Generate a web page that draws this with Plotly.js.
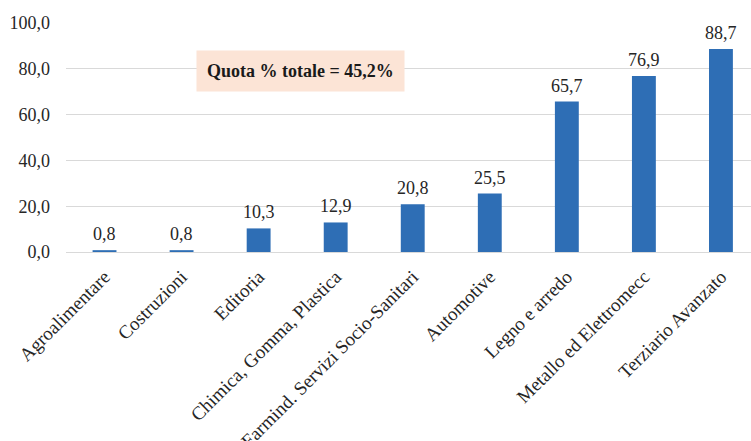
<!DOCTYPE html>
<html>
<head>
<meta charset="utf-8">
<script src="https://cdn.plot.ly/plotly-3.0.1.min.js"></script>
<style>html,body{margin:0;padding:0;background:#fff;}#chart{width:751px;height:441px;}</style>
</head>
<body>
<div id="chart"></div>
<script>
const categories = ["Agroalimentare", "Costruzioni", "Editoria", "Chimica, Gomma, Plastica", "Farmind. Servizi Socio-Sanitari", "Automotive", "Legno e arredo", "Metallo ed Elettromecc", "Terziario Avanzato"];
const values = [0.8, 0.8, 10.3, 12.9, 20.8, 25.5, 65.7, 76.9, 88.7];
const yTicks = [0, 20, 40, 60, 80, 100];
const noteText = "Quota % totale = 45,2%";

const FONT = "Liberation Serif";

const trace = {
  type: "bar",
  x: categories,
  y: values,
  width: 0.31,
  marker: {color: "#2E6EB5"},
  hoverinfo: "none"
};

const valueLabels = categories.map((c, i) => ({
  xref: "x", yref: "y",
  x: c, y: values[i],
  text: values[i].toFixed(1).replace(".", ","),
  showarrow: false,
  yanchor: "bottom",
  yshift: 4,
  font: {family: FONT, size: 18, color: "#262626"}
}));

const layout = {
  width: 751,
  height: 441,
  margin: {l: 66, r: 0, t: 23, b: 189},
  paper_bgcolor: "#ffffff",
  plot_bgcolor: "#ffffff",
  separators: ",.",
  showlegend: false,
  font: {family: FONT, size: 18, color: "#262626"},
  xaxis: {
    type: "category",
    range: [-0.5, 8.39],
    tickangle: -45,
    showgrid: false,
    zeroline: false,
    showline: false,
    ticks: "",
    ticklabelstandoff: 9,
    tickfont: {family: FONT, size: 19, color: "#262626"}
  },
  yaxis: {
    range: [0, 100],
    tickvals: yTicks,
    tickformat: ".1f",
    showgrid: true,
    gridcolor: "#d9d9d9",
    gridwidth: 1,
    zeroline: true,
    zerolinecolor: "#d9d9d9",
    zerolinewidth: 1,
    showline: false,
    ticks: "",
    ticklabelstandoff: 15,
    tickfont: {family: FONT, size: 18, color: "#262626"}
  },
  annotations: valueLabels.concat([{
    xref: "paper", yref: "y",
    x: 0.343, y: 79,
    text: "<b>" + noteText + "</b>",
    showarrow: false,
    bgcolor: "#FCE4D6",
    borderpad: 10,
    font: {family: FONT, size: 18, color: "#1a1a1a"}
  }])
};

Plotly.newPlot("chart", [trace], layout, {displayModeBar: false, staticPlot: true});
</script>
</body>
</html>
